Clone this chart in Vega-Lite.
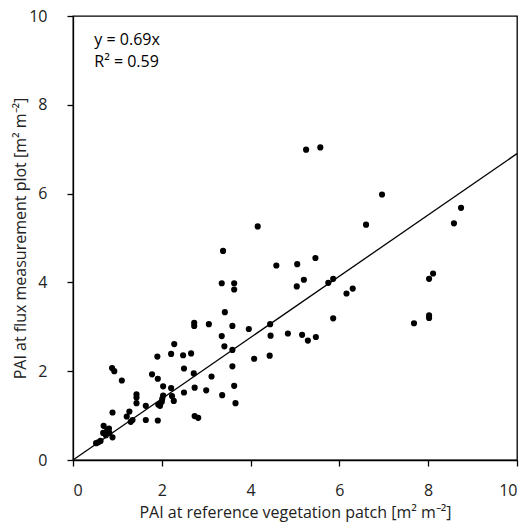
{
  "$schema": "https://vega.github.io/schema/vega-lite/v6.json",
  "width": 444,
  "height": 444,
  "autosize": "none",
  "padding": {"left": 73, "top": 16, "right": 12, "bottom": 65},
  "background": "white",
  "config": {
    "view": {"stroke": "#000", "strokeWidth": 1.3},
    "font": "Open Sans",
    "axis": {
      "grid": false,
      "domainColor": "#000",
      "domainWidth": 1.3,
      "tickColor": "#000",
      "tickSize": 6,
      "tickWidth": 1.3,
      "labelFont": "Open Sans",
      "labelFontSize": 16,
      "labelColor": "#222",
      "titleFont": "Open Sans",
      "titleFontSize": 16,
      "titleFontWeight": "normal",
      "titleColor": "#222"
    }
  },
  "datasets": {
    "pts": [
      {"ref": 0.52, "flux": 0.38}, {"ref": 0.57, "flux": 0.40}, {"ref": 0.62, "flux": 0.43},
      {"ref": 0.68, "flux": 0.61}, {"ref": 0.69, "flux": 0.77}, {"ref": 0.74, "flux": 0.56},
      {"ref": 0.77, "flux": 0.68}, {"ref": 0.81, "flux": 0.71}, {"ref": 0.82, "flux": 0.61},
      {"ref": 0.89, "flux": 0.51}, {"ref": 0.89, "flux": 1.07}, {"ref": 0.88, "flux": 2.07},
      {"ref": 0.93, "flux": 2.00}, {"ref": 1.10, "flux": 1.79}, {"ref": 1.21, "flux": 0.98},
      {"ref": 1.27, "flux": 1.09}, {"ref": 1.30, "flux": 0.86}, {"ref": 1.34, "flux": 0.90},
      {"ref": 1.43, "flux": 1.48}, {"ref": 1.43, "flux": 1.41}, {"ref": 1.43, "flux": 1.28},
      {"ref": 1.64, "flux": 1.22}, {"ref": 1.64, "flux": 0.90}, {"ref": 1.78, "flux": 1.93},
      {"ref": 1.90, "flux": 2.33}, {"ref": 1.91, "flux": 1.83}, {"ref": 1.91, "flux": 0.89},
      {"ref": 1.92, "flux": 1.25}, {"ref": 1.96, "flux": 1.22}, {"ref": 2.00, "flux": 1.31},
      {"ref": 2.01, "flux": 1.38}, {"ref": 2.03, "flux": 1.45}, {"ref": 2.03, "flux": 1.66},
      {"ref": 2.21, "flux": 2.39}, {"ref": 2.28, "flux": 2.61}, {"ref": 2.21, "flux": 1.62},
      {"ref": 2.23, "flux": 1.44}, {"ref": 2.27, "flux": 1.33}, {"ref": 2.48, "flux": 2.36},
      {"ref": 2.50, "flux": 2.06}, {"ref": 2.50, "flux": 1.52}, {"ref": 2.66, "flux": 2.40},
      {"ref": 2.72, "flux": 1.95}, {"ref": 2.74, "flux": 1.63}, {"ref": 2.73, "flux": 3.09},
      {"ref": 2.73, "flux": 3.02}, {"ref": 3.06, "flux": 3.06}, {"ref": 2.74, "flux": 0.99},
      {"ref": 2.82, "flux": 0.95}, {"ref": 3.00, "flux": 1.57}, {"ref": 3.12, "flux": 1.88},
      {"ref": 4.16, "flux": 5.26}, {"ref": 3.38, "flux": 4.71}, {"ref": 4.58, "flux": 4.38},
      {"ref": 5.05, "flux": 4.41}, {"ref": 5.46, "flux": 4.55}, {"ref": 3.35, "flux": 3.98},
      {"ref": 3.63, "flux": 3.98}, {"ref": 3.63, "flux": 3.84}, {"ref": 5.20, "flux": 4.06},
      {"ref": 5.04, "flux": 3.91}, {"ref": 5.75, "flux": 3.99}, {"ref": 5.86, "flux": 4.08},
      {"ref": 3.42, "flux": 3.33}, {"ref": 3.59, "flux": 3.02}, {"ref": 3.96, "flux": 2.95},
      {"ref": 4.44, "flux": 3.06}, {"ref": 4.45, "flux": 2.80}, {"ref": 4.84, "flux": 2.85},
      {"ref": 5.16, "flux": 2.82}, {"ref": 5.29, "flux": 2.69}, {"ref": 5.47, "flux": 2.77},
      {"ref": 5.86, "flux": 3.19}, {"ref": 3.35, "flux": 2.79}, {"ref": 3.41, "flux": 2.56},
      {"ref": 3.59, "flux": 2.48}, {"ref": 4.08, "flux": 2.28}, {"ref": 4.43, "flux": 2.35},
      {"ref": 3.59, "flux": 2.11}, {"ref": 3.36, "flux": 1.46}, {"ref": 3.63, "flux": 1.67},
      {"ref": 3.66, "flux": 1.28}, {"ref": 5.25, "flux": 6.99}, {"ref": 5.57, "flux": 7.04},
      {"ref": 6.96, "flux": 5.98}, {"ref": 6.60, "flux": 5.30}, {"ref": 8.74, "flux": 5.68},
      {"ref": 8.58, "flux": 5.33}, {"ref": 6.16, "flux": 3.75}, {"ref": 6.30, "flux": 3.86},
      {"ref": 8.02, "flux": 4.08}, {"ref": 8.11, "flux": 4.20}, {"ref": 7.68, "flux": 3.08},
      {"ref": 8.02, "flux": 3.26}, {"ref": 8.02, "flux": 3.20}
    ],
    "fit": [
      {"ref": 0, "flux": 0},
      {"ref": 10, "flux": 6.9}
    ],
    "notes": [
      {"ref": 0.48, "flux": 9.47, "label": "y = 0.69x"},
      {"ref": 0.48, "flux": 8.97, "label": "R² = 0.59"}
    ]
  },
  "layer": [
    {
      "data": {"name": "fit"},
      "mark": {"type": "line", "color": "#000", "strokeWidth": 1.3},
      "encoding": {
        "x": {"field": "ref", "type": "quantitative", "scale": {"domain": [0, 10], "nice": false},
              "axis": {"values": [0, 2, 4, 6, 8, 10], "title": "PAI at reference vegetation patch [m² m⁻²]", "labelPadding": 16, "titlePadding": 6}},
        "y": {"field": "flux", "type": "quantitative", "scale": {"domain": [0, 10], "nice": false},
              "axis": {"values": [0, 2, 4, 6, 8, 10], "title": "PAI at flux measurement plot [m² m⁻²]", "labelPadding": 20, "titlePadding": 0}}
      }
    },
    {
      "data": {"name": "pts"},
      "mark": {"type": "circle", "color": "#000", "opacity": 1, "size": 38},
      "encoding": {
        "x": {"field": "ref", "type": "quantitative"},
        "y": {"field": "flux", "type": "quantitative"}
      }
    },
    {
      "data": {"name": "notes"},
      "mark": {"type": "text", "align": "left", "baseline": "middle", "fontSize": 16, "color": "#000", "font": "Open Sans"},
      "encoding": {
        "x": {"field": "ref", "type": "quantitative"},
        "y": {"field": "flux", "type": "quantitative"},
        "text": {"field": "label"}
      }
    }
  ]
}
